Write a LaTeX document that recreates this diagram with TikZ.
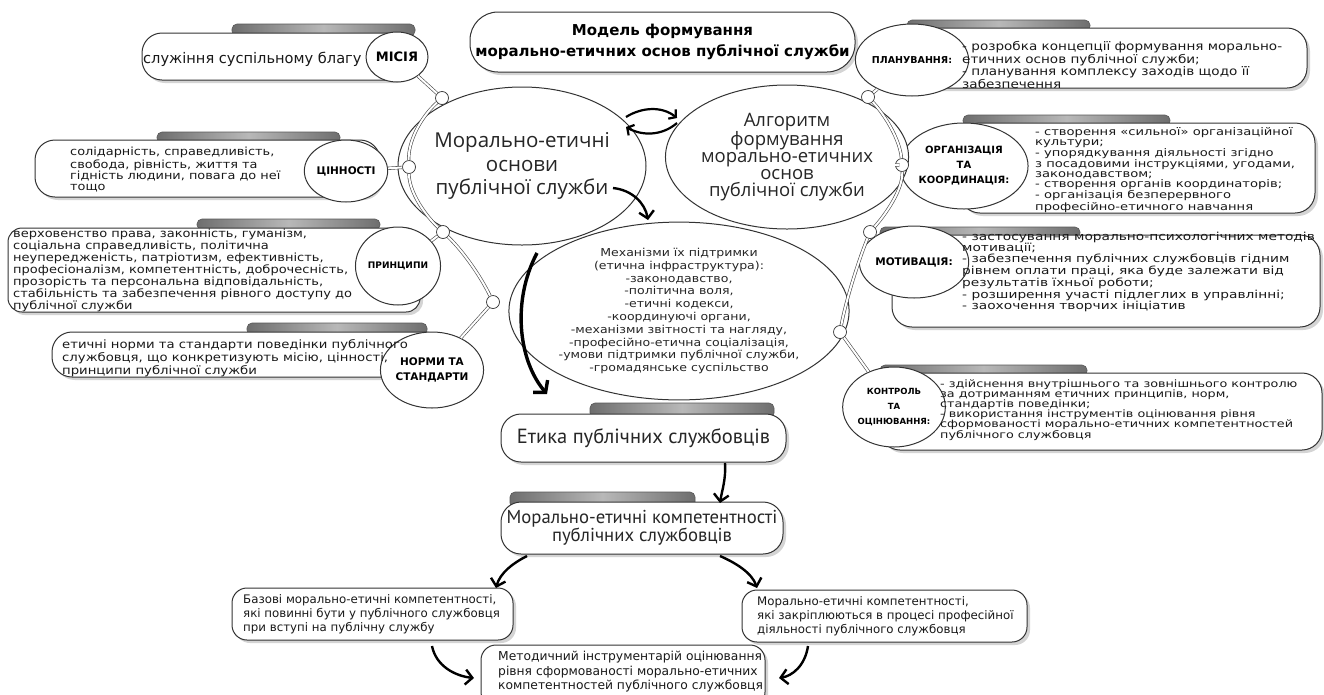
\documentclass[tikz,border=0pt]{standalone}
\usepackage{fontspec}
\setmainfont{DejaVu Sans}
\newfontfamily\osfont{Open Sans}
\newfontfamily\ptfont{PT Sans}
\newfontfamily\wideA[FakeStretch=1.15]{DejaVu Sans}
\newfontfamily\wideB[FakeStretch=1.25]{DejaVu Sans}
\usepackage{xcolor}
\usepackage{tikz}
\usetikzlibrary{shapes.geometric}
\usetikzlibrary{arrows.meta}
\usetikzlibrary{shadows}
\usetikzlibrary{positioning}
\definecolor{linec}{HTML}{333333}
\definecolor{tabdark}{HTML}{6E6E6E}
\definecolor{tablight}{HTML}{B8B8B8}
\tikzset{
    pill/.style = {rectangle, draw=linec, line width=1pt, fill=white, rounded corners=20pt, inner sep=0pt, drop shadow={shadow xshift=3pt, shadow yshift=-3pt, opacity=0.28, fill=black!60}},
    tabbar/.style = {rectangle, draw=tabdark!80!black, line width=0.6pt, rounded corners=5pt, left color=tabdark, right color=tabdark, middle color=tablight, inner sep=0pt},
    lbl/.style = {ellipse, draw=linec, line width=1pt, fill=white, inner sep=0pt, align=center},
    txt/.style = {anchor=west, align=left, inner sep=0pt, text=black!90},
    dot/.style = {circle, draw=linec, line width=0.7pt, fill=white, minimum size=13pt, inner sep=0pt},
    conn/.style = {draw=linec!90, line width=0.6pt, double=white, double distance=2pt},
    bigcirc/.style = {ellipse, draw=linec, line width=1pt, fill=white, inner sep=0pt, align=center, text=black!85},
    arr/.style = {line width=2.4pt, -{Straight Barb[length=7pt,width=15pt]}},
}

\begin{document}
\begin{tikzpicture}[x=1pt, y=-1pt]
\useasboundingbox[fill=white] (0,0) rectangle (1324,694);
%
% title
\node[pill, rounded corners=28pt, minimum width=385pt, minimum height=60pt, align=center, font=\bfseries\fontsize{15}{21}\selectfont] (title) at (662.5,42) {Модель формування\\морально-етичних основ публічної служби};
%
% left side
\node[tabbar, minimum width=183pt, minimum height=12pt] (mistab) at (323.5,30) {};
\node[pill, minimum width=271pt, minimum height=47pt] (mispill) at (277.5,56.5) {};
\node[lbl, minimum width=62pt, minimum height=50pt, font=\bfseries\fontsize{13}{13}\selectfont] (mis) at (397,57) {МІСІЯ};
\node[txt, font=\fontsize{14.6}{16}\selectfont] (mistxt) at (143,59) {служіння суспільному благу};
%
\node[tabbar, minimum width=183pt, minimum height=11pt] (cintab) at (248.5,137.5) {};
\node[pill, minimum width=345pt, minimum height=57pt] (cinpill) at (207.5,168.5) {};
\node[lbl, minimum width=64pt, minimum height=62pt, font=\bfseries\fontsize{10.5}{13}\selectfont] (cin) at (346,171) {ЦІННОСТІ};
\node[txt, font=\wideA\fontsize{11.2}{11}\selectfont] (cintxt) at (70,169.5) {солідарність, справедливість,\\свобода, рівність, життя та\\гідність людини, повага до неї\\тощо};
%
\node[tabbar, minimum width=183pt, minimum height=11pt] (prytab) at (288.5,224.5) {};
\node[pill, rounded corners=14pt, minimum width=412pt, minimum height=84pt] (prypill) at (214,270) {};
\node[lbl, minimum width=70pt, minimum height=78pt, font=\bfseries\fontsize{9}{13}\selectfont] (pry) at (398,266) {ПРИНЦИПИ};
\node[txt, font=\wideA\fontsize{11.3}{10.7}\selectfont] (prytxt) at (13,270.5) {верховенство права, законність, гуманізм,\\соціальна справедливість, політична\\неупередженість, патріотизм, ефективність,\\професіоналізм, компетентність, доброчесність,\\прозорість та персональна відповідальність,\\стабільність та забезпечення рівного доступу до\\публічної служби};
%
\node[tabbar, minimum width=180pt, minimum height=12pt] (nortab) at (337,329) {};
\node[pill, minimum width=393pt, minimum height=45pt] (norpill) at (248.5,354.5) {};
\node[lbl, minimum width=84pt, minimum height=76pt, font=\bfseries\fontsize{10.5}{15}\selectfont] (nor) at (432,370) {НОРМИ ТА\\СТАНДАРТИ};
\node[txt, font=\wideA\fontsize{11.5}{13}\selectfont] (nortxt) at (62,358) {етичні норми та стандарти поведінки публічного\\службовця, що конкретизують місію, цінності,\\принципи публічної служби};
%
% right side
\node[tabbar, minimum width=183pt, minimum height=11pt] (platab) at (998.5,25.5) {};
\node[pill, minimum width=407pt, minimum height=60pt] (plapill) at (1103.5,58) {};
\node[lbl, minimum width=90pt, minimum height=72pt, font=\bfseries\fontsize{9.5}{13}\selectfont] (pla) at (912,60) {ПЛАНУВАННЯ:};
\node[txt, font=\wideA\fontsize{11.8}{11.3}\selectfont] (platxt) at (962,65) {- розробка концепції формування морально-\\етичних основ  публічної служби;\\- планування комплексу заходів щодо її\\забезпечення};
%
\node[tabbar, minimum width=207pt, minimum height=11pt] (orgtab) at (1066.5,120.5) {};
\node[pill, minimum width=355pt, minimum height=90pt] (orgpill) at (1137.5,168) {};
\node[lbl, minimum width=94pt, minimum height=86pt, font=\bfseries\fontsize{10}{15}\selectfont] (org) at (964,166) {ОРГАНІЗАЦІЯ\\ТА\\КООРДИНАЦІЯ:};
\node[txt, font=\wideB\fontsize{10.5}{9.8}\selectfont] (orgtxt) at (1035,170) {- створення «сильної» організаційної\\культури;\\- упорядкування діяльності згідно\\з посадовими інструкціями, угодами,\\законодавством;\\- створення органів координаторів;\\- організація безперервного\\професійно-етичного навчання};
%
\node[tabbar, minimum width=200pt, minimum height=11pt] (mottab) at (980,232.5) {};
\node[pill, minimum width=428pt, minimum height=92pt] (motpill) at (1106,281) {};
\node[lbl, minimum width=86pt, minimum height=72pt, font=\bfseries\fontsize{10.5}{13}\selectfont] (mot) at (914,262) {МОТИВАЦІЯ:};
\node[txt, font=\wideB\fontsize{11}{9.8}\selectfont] (mottxt) at (962,272) {- застосування морально-психологічних методів\\мотивації;\\- забезпечення публічних службовців гідним\\рівнем оплати праці, яка буде залежати від\\результатів їхньої роботи;\\- розширення участі підлеглих в управлінні;\\- заохочення творчих ініціатив};
%
\node[tabbar, minimum width=207pt, minimum height=11pt] (kontab) at (983.5,370.5) {};
\node[pill, minimum width=442pt, minimum height=77pt] (konpill) at (1101,411.5) {};
\node[lbl, minimum width=86pt, minimum height=80pt, font=\bfseries\fontsize{8.5}{15}\selectfont] (kon) at (894,407) {КОНТРОЛЬ\\ТА\\ОЦІНЮВАННЯ:};
\node[txt, font=\wideB\fontsize{10.2}{10}\selectfont] (kontxt) at (940,410.5) {- здійснення внутрішнього та зовнішнього контролю\\за дотриманням етичних принципів, норм,\\стандартів поведінки;\\- використання інструментів оцінювання рівня\\сформованості морально-етичних компетентностей\\публічного службовця};
%
% centre
\node[bigcirc, minimum width=190pt, minimum height=158pt, font=\osfont\fontsize{20.5}{23.5}\selectfont] (mor) at (522,166) {Морально-етичні\\основи\\публічної служби};
\node[bigcirc, minimum width=180pt, minimum height=144pt, font=\osfont\fontsize{18.5}{17}\selectfont] (alg) at (787,157) {Алгоритм\\формування\\морально-етичних\\основ\\публічної служби};
\node[bigcirc, minimum width=272pt, minimum height=158pt, font=\wideA\fontsize{10.9}{12.8}\selectfont] (mech) at (679,311) {Механізми їх підтримки\\(етична інфраструктура):\\-законодавство,\\-політична воля,\\-етичні кодекси,\\-координуючі органи,\\-механізми звітності та нагляду,\\-професійно-етична соціалізація,\\-умови підтримки публічної служби,\\-громадянське суспільство};
%
% lower chain
\node[tabbar, minimum width=184pt, minimum height=15pt] (etytab) at (682,410.5) {};
\node[pill, minimum width=285pt, minimum height=48pt, font=\ptfont\fontsize{20.5}{21}\selectfont, text=black!85] (ety) at (643.5,438) {Етика публічних службовців};
\node[tabbar, minimum width=185pt, minimum height=16pt] (komtab) at (602.5,500) {};
\node[pill, minimum width=282pt, minimum height=52pt, align=center, font=\ptfont\fontsize{18.7}{18}\selectfont, text=black!85] (kom) at (642,528) {Морально-етичні компетентності\\публічних службовців};
\node[pill, rounded corners=15pt, minimum width=281pt, minimum height=52pt] (baz) at (372.5,614) {};
\node[txt, font=\fontsize{11.8}{14}\selectfont] (baztxt) at (243,614) {Базові морально-етичні компетентності,\\які повинні бути у публічного службовця\\при вступі на публічну службу};
\node[pill, rounded corners=15pt, minimum width=285pt, minimum height=52pt] (zak) at (884.5,616) {};
\node[txt, font=\fontsize{11.8}{14}\selectfont] (zaktxt) at (757,616) {Морально-етичні компетентності,\\які закріплюються в процесі професійної\\діяльності публічного службовця};
\node[pill, rounded corners=15pt, minimum width=284pt, minimum height=62pt] (met) at (623,676) {};
\node[txt, font=\fontsize{12.3}{14.5}\selectfont] (mettxt) at (498,672) {Методичний інструментарій оцінювання\\рівня сформованості морально-етичних\\компетентностей публічного службовця};
%
% connector dots
\node[dot] (d1) at (442,98) {};
\node[dot] (d2) at (409,167) {};
\node[dot] (d3) at (443,232) {};
\node[dot] (d4) at (493,302) {};
\node[dot] (r1) at (868,97) {};
\node[dot] (r2) at (902,165) {};
\node[dot] (r3) at (870,232) {};
\node[dot] (r4) at (840,332) {};
%
\draw[conn] (d1) .. controls (420,118) and (408,142) .. (d2);
\draw[conn] (d2) .. controls (409,192) and (425,215) .. (d3);
\draw[conn] (d3) .. controls (462,250) and (480,275) .. (d4);
\draw[conn] (d1) -- (mis);
\draw[conn] (d2) -- (cin);
\draw[conn] (d3) -- (pry);
\draw[conn] (d4) -- (nor);
%
\draw[conn] (r1) .. controls (885,115) and (900,140) .. (r2);
\draw[conn] (r2) .. controls (903,190) and (885,215) .. (r3);
\draw[conn] (r3) .. controls (858,262) and (846,300) .. (r4);
\draw[conn] (r1) -- (pla);
\draw[conn] (r2) -- (org);
\draw[conn] (r3) -- (mot);
\draw[conn] (r4) -- (kon);
%
% arrows
\coordinate (sw1) at (626,117);
\coordinate (se1) at (677,118);
\coordinate (se2) at (677,123);
\coordinate (sw2) at (626,127);
\draw[line width=2.2pt, -{Straight Barb[length=5pt,width=12pt]}] (sw1) .. controls (642,107) and (662,106) .. (se1);
\draw[line width=2.2pt, -{Straight Barb[length=5pt,width=12pt]}] (se2) .. controls (662,136) and (642,136) .. (sw2);
\coordinate (a1) at (613,188);
\coordinate (a2) at (648,220);
\draw[arr] (a1) .. controls (632,190) and (645,203) .. (a2);
\coordinate (b1) at (537,253);
\coordinate (b2) at (547,394);
\draw[line width=3.4pt, -{Straight Barb[length=8pt,width=19pt]}] (b1) .. controls (512,300) and (518,360) .. (b2);
\coordinate (c1) at (725,463);
\coordinate (c2) at (720,503);
\draw[arr] (c1) .. controls (726,480) and (722,490) .. (c2);
\coordinate (e1) at (527,556);
\coordinate (e2) at (496,588);
\draw[arr] (e1) .. controls (513,563) and (500,573) .. (e2);
\coordinate (f1) at (720,556);
\coordinate (f2) at (757,588);
\draw[arr] (f1) .. controls (736,563) and (752,573) .. (f2);
\coordinate (g1) at (432,646);
\coordinate (g2) at (474,678);
\draw[arr] (g1) .. controls (436,666) and (455,676) .. (g2);
\coordinate (h1) at (808,646);
\coordinate (h2) at (779,678);
\draw[arr] (h1) .. controls (805,666) and (792,676) .. (h2);
\end{tikzpicture}
\end{document}
